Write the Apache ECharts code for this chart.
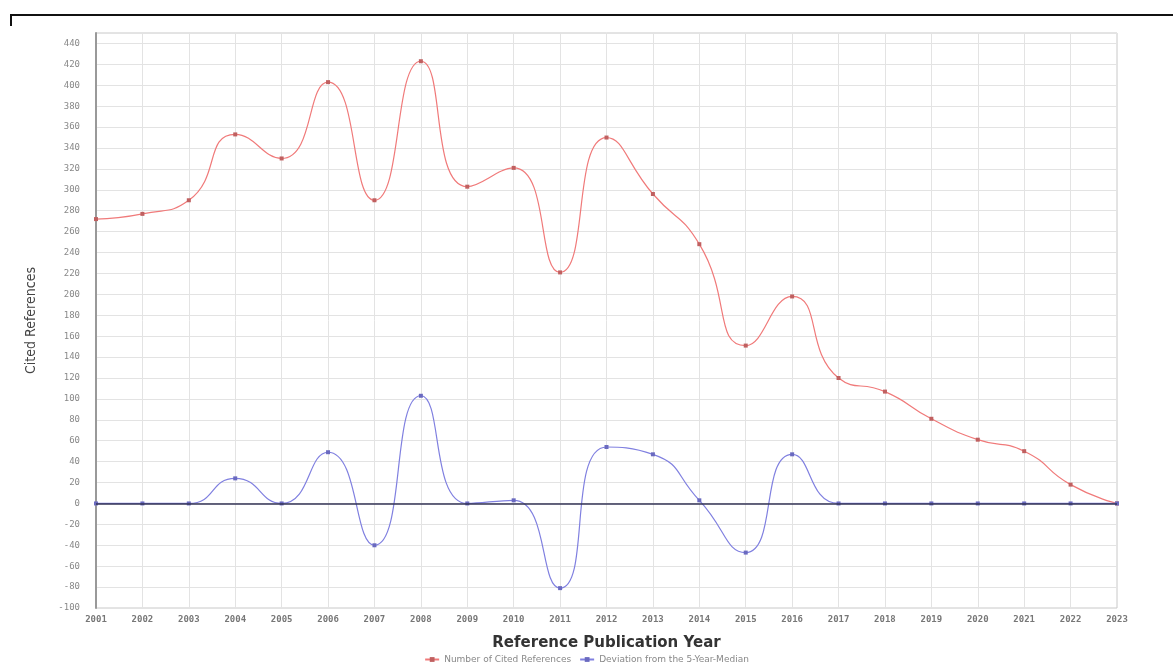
<!DOCTYPE html>
<html>
<head>
<meta charset="utf-8">
<script src="https://cdn.jsdelivr.net/npm/echarts@6/dist/echarts.min.js"></script>
<style>
html,body{margin:0;padding:0;background:#fff;}
#chart{width:1173px;height:671px;}
</style>
</head>
<body>
<div id="chart"></div>
<script>
const years = ['2001','2002','2003','2004','2005','2006','2007','2008','2009','2010','2011','2012','2013','2014','2015','2016','2017','2018','2019','2020','2021','2022','2023'];
const citedRefs = [272,277,290,353,330,403,290,423,303,321,221,350,296,248,151,198,120,107,81,61,50,18,0];
const deviation = [0,0,0,24,0,49,-40,103,0,3,-81,54,47,3,-47,47,0,0,0,0,0,0,0];
const yTicks = {min:-100, max:450, interval:20};
const seriesNames = ['Number of Cited References','Deviation from the 5-Year-Median'];

const chart = echarts.init(document.getElementById('chart'), null, {renderer:'canvas'});
chart.setOption({
  backgroundColor:'#fff',
  animation:false,
  grid:{left:96, right:56, top:33, bottom:63, show:true, borderColor:'#c8c8c8', borderWidth:1},
  graphic:[
    {type:'line', shape:{x1:10, y1:15, x2:1173, y2:15}, style:{stroke:'#111', lineWidth:2}},
    {type:'line', shape:{x1:11, y1:14, x2:11, y2:26}, style:{stroke:'#111', lineWidth:2}}
  ],
  legend:{
    bottom:2, left:'center',
    itemWidth:14, itemHeight:6, itemGap:8,
    textStyle:{fontSize:9, color:'#888', fontFamily:'DejaVu Sans'},
    data:seriesNames
  },
  xAxis:{
    type:'category', data:years, boundaryGap:false,
    name:'Reference Publication Year', nameLocation:'middle', nameGap:28,
    nameTextStyle:{fontSize:15, fontWeight:'bold', color:'#333', fontFamily:'DejaVu Sans'},
    axisLine:{show:false}, axisTick:{show:false},
    axisLabel:{fontSize:9, color:'#777', fontFamily:'DejaVu Sans Mono', fontWeight:'bold', margin:7},
    splitLine:{show:true, lineStyle:{color:'#e3e3e3', width:1}}
  },
  yAxis:{
    type:'value', min:yTicks.min, max:yTicks.max, interval:yTicks.interval,
    name:'Cited References', nameLocation:'middle', nameGap:58, nameRotate:90,
    nameTextStyle:{fontSize:14, color:'#444', fontFamily:'DejaVu Sans Condensed'},
    axisLine:{show:true, lineStyle:{color:'#999', width:2}}, axisTick:{show:false},
    axisLabel:{fontSize:9, color:'#888', fontFamily:'DejaVu Sans Mono', margin:16, showMaxLabel:false},
    splitLine:{show:true, lineStyle:{color:'#e3e3e3', width:1}}
  },
  series:[
    {
      name:seriesNames[0], type:'line', data:citedRefs, smooth:0.55,
      symbol:'rect', symbolSize:4, showSymbol:true,
      lineStyle:{color:'#f07a7a', width:1.2},
      itemStyle:{color:'#c06060'},
      z:3
    },
    {
      name:seriesNames[1], type:'line', data:deviation, smooth:0.55,
      symbol:'rect', symbolSize:4, showSymbol:true,
      lineStyle:{color:'#8080e0', width:1.2},
      itemStyle:{color:'#6a6ac0'},
      z:3,
      markLine:{
        silent:true, symbol:['none','none'], label:{show:false},
        lineStyle:{color:'#333355', width:1.5, type:'solid'},
        data:[{yAxis:0}]
      }
    }
  ]
});
</script>
</body>
</html>
